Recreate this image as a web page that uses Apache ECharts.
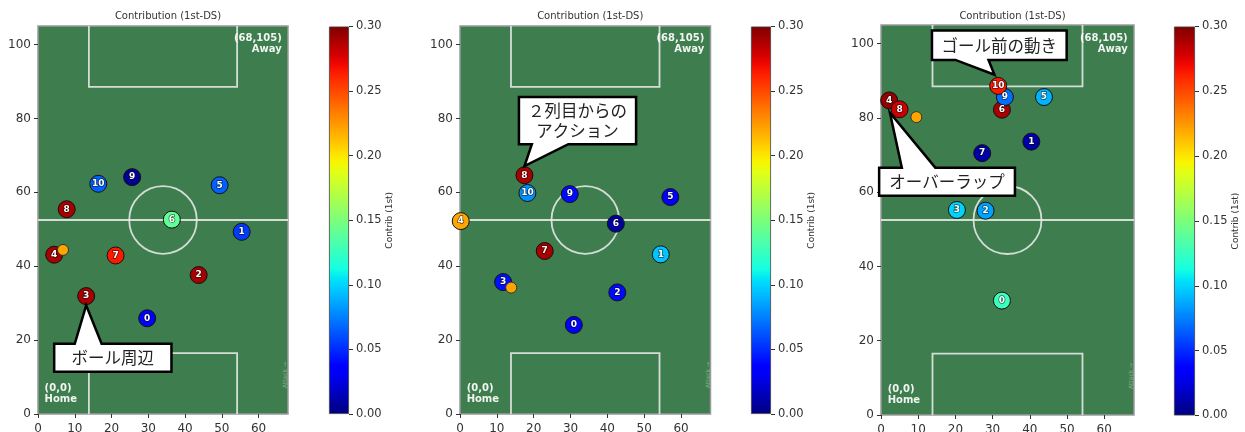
<!DOCTYPE html>
<html>
<head>
<meta charset="utf-8">
<script src="https://cdn.jsdelivr.net/npm/echarts@6/dist/echarts.min.js"></script>
<style>
html, body { margin: 0; padding: 0; background: #fff; }
#chart { width: 1245px; height: 432px; }
</style>
</head>
<body>
<div id="chart"></div>
<script>
// player numbers (same order in every panel)
const playerLabels = ['0', '1', '2', '3', '4', '5', '6', '7', '8', '9', '10']

// panel 1
const p1X = [29.7, 55.4, 43.7, 13.1, 4.4, 49.4, 36.4, 21.1, 7.8, 25.6, 16.4]
const p1Y = [25.9, 49.3, 37.6, 31.9, 43.1, 61.9, 52.6, 42.9, 55.4, 64.1, 62.3]
const p1Contrib = [0.036, 0.055, 0.29, 0.29, 0.29, 0.066, 0.14, 0.265, 0.29, 0.005, 0.066]
const p1Ball = [6.8, 44.4]

// panel 2
const p2X = [30.9, 54.5, 42.7, 11.7, 0.2, 57.1, 42.3, 23.0, 17.5, 29.8, 18.3]
const p2Y = [24.1, 43.2, 32.9, 35.7, 52.2, 58.7, 51.5, 44.1, 64.6, 59.5, 59.8]
const p2Contrib = [0.036, 0.095, 0.04, 0.042, 0.22, 0.035, 0.008, 0.29, 0.29, 0.04, 0.08]
const p2Ball = [13.9, 34.2]

// panel 3
const p3X = [32.5, 40.4, 28.1, 20.4, 2.2, 43.8, 32.5, 27.2, 5.0, 33.3, 31.5]
const p3Y = [30.8, 73.6, 55.0, 55.2, 84.7, 85.6, 82.2, 70.5, 82.3, 85.6, 88.6]
const p3Contrib = [0.126, 0.01, 0.085, 0.1, 0.295, 0.09, 0.29, 0.01, 0.28, 0.07, 0.265]
const p3Ball = [9.5, 80.2]

// callouts: text, panel, tip point, box [x1, yTop, x2, yBottom], pointer base [x1, x2]
const calloutTexts = ['ボール周辺', '２列目からの\nアクション', 'ゴール前の動き', 'オーバーラップ']
const calloutPanel = [0, 1, 2, 2]
const calloutTip = [[13.1, 29.4], [17.5, 67.1], [30.5, 91.6], [2.4, 81.4]]
const calloutBox = [[4.4, 19.0, 36.3, 11.4], [16.0, 85.8, 47.8, 73.0], [13.7, 103.5, 49.9, 95.6], [-0.5, 66.6, 36.0, 59.0]]
const calloutBase = [[10.0, 17.3], [19.5, 29.4], [20.0, 28.9], [5.6, 14.6]]

// colorbar range and ticks
const cbMin = 0
const cbMax = 0.3
const cbStep = 0.05

// pitch geometry (metres)
const pitchW = 68
const pitchL = 105
const boxX = [13.84, 54.16]
const boxDepth = 16.5
const circleR = 9.15

const titleText = 'Contribution (1st-DS)'
const cbName = 'Contrib (1st)'

const panels = [
  { xs: p1X, ys: p1Y, cs: p1Contrib, ball: p1Ball },
  { xs: p2X, ys: p2Y, cs: p2Contrib, ball: p2Ball },
  { xs: p3X, ys: p3Y, cs: p3Contrib, ball: p3Ball }
]

// layout
const pitchGrids = [
  { left: 38, top: 26, width: 250, height: 388 },
  { left: 460, top: 26, width: 250.5, height: 388 },
  { left: 881, top: 25, width: 253, height: 390 }
]
const cbGrids = [
  { left: 329, top: 26.5, width: 20, height: 387.5 },
  { left: 751, top: 26.5, width: 20, height: 387.5 },
  { left: 1174, top: 26.5, width: 21, height: 389 }
]

// matplotlib 'jet'
function interp(pts, t) {
  for (let i = 1; i < pts.length; i++) {
    if (t <= pts[i][0]) {
      const [x0, y0] = pts[i - 1]
      const [x1, y1] = pts[i]
      return y0 + (y1 - y0) * (t - x0) / (x1 - x0)
    }
  }
  return pts[pts.length - 1][1]
}
function jet(t) {
  const r = interp([[0, 0], [0.35, 0], [0.66, 1], [0.89, 1], [1, 0.5]], t)
  const g = interp([[0, 0], [0.125, 0], [0.375, 1], [0.64, 1], [0.91, 0], [1, 0]], t)
  const b = interp([[0, 0.5], [0.11, 1], [0.34, 1], [0.65, 0], [1, 0]], t)
  return `rgb(${Math.round(r * 255)},${Math.round(g * 255)},${Math.round(b * 255)})`
}
const jetColors = []
for (let i = 0; i <= 40; i++) jetColors.push(jet(i / 40))

const axisFont = 'DejaVu Sans'
const lineColor = 'rgba(235,235,235,0.88)'

const grids = []
const xAxes = []
const yAxes = []
const titles = []
const series = []

pitchGrids.forEach((g, i) => {
  grids.push({ ...g, outerBoundsMode: 'none', containLabel: false, show: true,
    backgroundColor: '#3e7d4d', borderColor: '#9a9a9a', borderWidth: 1.5 })
  xAxes.push({
    gridIndex: i, type: 'value', min: 0, max: pitchW, interval: 10,
    axisLine: { show: false },
    axisTick: { show: true, length: 4, lineStyle: { color: '#333' } },
    axisLabel: { color: '#333', fontSize: 12, fontFamily: axisFont, margin: 9, showMaxLabel: false },
    splitLine: { show: false }
  })
  yAxes.push({
    gridIndex: i, type: 'value', min: 0, max: pitchL, interval: 20,
    axisLine: { show: false },
    axisTick: { show: true, length: 4, lineStyle: { color: '#333' } },
    axisLabel: { color: '#333', fontSize: 12, fontFamily: axisFont, margin: 7, showMaxLabel: false },
    splitLine: { show: false }
  })
  titles.push({
    text: titleText,
    left: g.left + g.width / 2,
    top: 6,
    textAlign: 'center',
    textStyle: { fontSize: 10, fontWeight: 'normal', color: '#333', fontFamily: axisFont }
  })
})

cbGrids.forEach((g, i) => {
  grids.push({ ...g, outerBoundsMode: 'none', containLabel: false })
  xAxes.push({ gridIndex: 3 + i, type: 'category', data: [''], show: false })
  yAxes.push({
    gridIndex: 3 + i, type: 'value', position: 'right', min: cbMin, max: cbMax, interval: cbStep,
    axisLine: { show: false },
    axisTick: { show: true, length: 4, lineStyle: { color: '#333' } },
    axisLabel: { color: '#333', fontSize: 11.5, fontFamily: axisFont, margin: 7, formatter: v => v.toFixed(2) },
    splitLine: { show: false },
    name: cbName, nameLocation: 'middle', nameRotate: 90, nameGap: 36,
    nameTextStyle: { fontSize: 9, color: '#333', fontFamily: axisFont }
  })
})

// pitch lines and corner texts
panels.forEach((p, i) => {
  series.push({
    type: 'custom', xAxisIndex: i, yAxisIndex: i, data: [[0]], silent: true, z: 1, clip: false,
    renderItem: (params, api) => {
      const line = pts => ({
        type: 'polyline',
        shape: { points: pts.map(q => api.coord(q)) },
        style: { stroke: lineColor, lineWidth: 1.8, fill: null }
      })
      const c = api.coord([pitchW / 2, pitchL / 2])
      const r = api.size([circleR, circleR])
      const away = api.coord([66.3, 103])
      const home = api.coord([1.8, 2.4])
      const atk = api.coord([67.4, 7])
      return {
        type: 'group',
        children: [
          line([[boxX[0], 0], [boxX[0], boxDepth], [boxX[1], boxDepth], [boxX[1], 0]]),
          line([[boxX[0], pitchL], [boxX[0], pitchL - boxDepth], [boxX[1], pitchL - boxDepth], [boxX[1], pitchL]]),
          line([[0, pitchL / 2], [pitchW, pitchL / 2]]),
          {
            type: 'circle', shape: { cx: c[0], cy: c[1], r: r[1] },
            style: { stroke: lineColor, lineWidth: 1.8, fill: null }
          },
          {
            type: 'text',
            style: { text: '(68,105)\nAway', x: away[0], y: away[1], align: 'right', verticalAlign: 'top',
              fill: 'rgba(255,255,255,0.92)', font: 'bold 10px "DejaVu Sans"', lineHeight: 11 }
          },
          {
            type: 'text',
            style: { text: '(0,0)\nHome', x: home[0], y: home[1], align: 'left', verticalAlign: 'bottom',
              fill: 'rgba(255,255,255,0.92)', font: 'bold 10px "DejaVu Sans"', lineHeight: 11 }
          },
          {
            type: 'text', x: atk[0], y: atk[1], rotation: Math.PI / 2,
            style: { text: 'Attack →', x: 0, y: 0, align: 'left', verticalAlign: 'middle',
              fill: 'rgba(255,255,255,0.35)', font: '6px "DejaVu Sans"' }
          }
        ]
      }
    }
  })
})

// players
panels.forEach((p, i) => {
  series.push({
    type: 'scatter', xAxisIndex: i, yAxisIndex: i, z: 3,
    symbolSize: 17,
    data: p.xs.map((x, k) => [x, p.ys[k], p.cs[k], playerLabels[k]]),
    itemStyle: { borderColor: '#111', borderWidth: 1, opacity: 1 },
    label: {
      show: true, position: 'inside', formatter: d => d.value[3],
      color: '#fff', fontSize: 9, fontWeight: 'bold', fontFamily: axisFont,
      textBorderColor: 'rgba(0,0,0,0.6)', textBorderWidth: 1.5
    }
  })
})

// ball
panels.forEach((p, i) => {
  series.push({
    type: 'scatter', xAxisIndex: i, yAxisIndex: i, z: 4,
    symbolSize: 11,
    data: [p.ball],
    itemStyle: { color: '#ffa500', borderColor: '#333', borderWidth: 1, opacity: 1 }
  })
})

// callouts
panels.forEach((p, i) => {
  const items = []
  calloutTexts.forEach((t, k) => {
    if (calloutPanel[k] !== i) return
    items.push([calloutTip[k][0], calloutTip[k][1], calloutBox[k][0], calloutBox[k][1],
      calloutBox[k][2], calloutBox[k][3], calloutBase[k][0], calloutBase[k][1], k])
  })
  series.push({
    type: 'custom', xAxisIndex: i, yAxisIndex: i, data: items, silent: true, z: 10, clip: false,
    renderItem: (params, api) => {
      const tip = api.coord([api.value(0), api.value(1)])
      const tl = api.coord([api.value(2), api.value(3)])
      const br = api.coord([api.value(4), api.value(5)])
      const b1 = api.coord([api.value(6), 0])[0]
      const b2 = api.coord([api.value(7), 0])[0]
      const L = tl[0], T = tl[1], R = br[0], B = br[1]
      const onTop = tip[1] < T
      const pts = onTop
        ? [[L, T], [b1, T], tip, [b2, T], [R, T], [R, B], [L, B]]
        : [[L, T], [R, T], [R, B], [b2, B], tip, [b1, B], [L, B]]
      return {
        type: 'group',
        children: [
          {
            type: 'polygon', shape: { points: pts },
            style: { fill: '#fff', stroke: '#000', lineWidth: 2.5, lineJoin: 'miter' }
          },
          {
            type: 'text',
            style: {
              text: calloutTexts[api.value(8)], x: (L + R) / 2, y: (T + B) / 2,
              align: 'center', verticalAlign: 'middle',
              fill: '#222', font: '16.5px "Noto Sans CJK JP"', lineHeight: 20
            }
          }
        ]
      }
    }
  })
})

// colorbars
cbGrids.forEach((g, i) => {
  series.push({
    type: 'bar', xAxisIndex: 3 + i, yAxisIndex: 3 + i, barWidth: '100%', silent: true,
    data: [cbMax],
    itemStyle: {
      color: new echarts.graphic.LinearGradient(0, 1, 0, 0,
        jetColors.map((c, k) => ({ offset: k / (jetColors.length - 1), color: c }))),
      borderColor: '#444', borderWidth: 0.8
    }
  })
})

const chart = echarts.init(document.getElementById('chart'))
chart.setOption({
  animation: false,
  backgroundColor: '#fff',
  title: titles,
  grid: grids,
  xAxis: xAxes,
  yAxis: yAxes,
  visualMap: {
    type: 'continuous', show: false, min: cbMin, max: cbMax, dimension: 2,
    seriesIndex: [3, 4, 5],
    inRange: { color: jetColors }
  },
  series
})
</script>
</body>
</html>
